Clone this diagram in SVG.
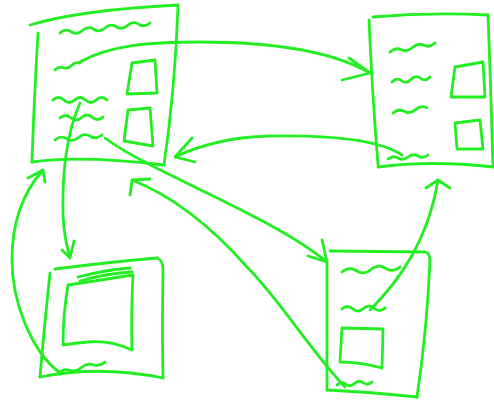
<svg xmlns="http://www.w3.org/2000/svg" width="494" height="402" viewBox="0 0 494 402">
<style>
path{fill:none;stroke:#22ee22;stroke-width:2.8;stroke-linecap:round;stroke-linejoin:round}
</style>
<rect width="494" height="402" fill="#ffffff"/>
<g id="node-1">
<path d="M30,25 Q80,10 178,5"/>
<path d="M178,6 Q175,90 164,165"/>
<path d="M38,33 Q34,100 32,162"/>
<path d="M32,162 Q80,155 164,165"/>
<path d="M60,33 q5.6,-5 11.25,-1.25 t11.25,-1.25 t11.25,-1.25 t11.25,-1.25 t11.25,-1.25 t11.25,-1.25 t11.25,-1.25 t11.25,-1.25"/>
<path d="M55,70 q4,-4 8.3,-2.3 t8.3,-2.3 t8.3,-2.3"/>
<path d="M53,100 q5.4,-5 10.8,0 t10.8,0 t10.8,0 t10.8,0 t10.8,0"/>
<path d="M60,118 q5.4,-5 10.75,-0.25 t10.75,-0.25 t10.75,-0.25 t10.75,-0.25"/>
<path d="M55,140 q5.9,-5 11.75,-1.25 t11.75,-1.25 t11.75,-1.25 t11.75,-1.25"/>
<path d="M132,63 L155,60 L157,93 L127,94 Z"/>
<path d="M128,110 L150,108 L153,146 L124,141 Z"/>
</g>
<g id="node-2">
<path d="M373,17 Q430,12 488,15"/>
<path d="M369,20 Q372,90 378,165"/>
<path d="M488,15 Q491,90 493,167"/>
<path d="M378,167 Q430,160 494,167"/>
<path d="M390,52 q5.6,-5 11.25,-2.25 t11.25,-2.25 t11.25,-2.25 t11.25,-2.25"/>
<path d="M392,82 q4.7,-5 9.5,-1.25 t9.5,-1.25 t9.5,-1.25 t9.5,-1.25"/>
<path d="M393,113 q5.7,-5 11.3,-1.7 t11.3,-1.7 t11.3,-1.7"/>
<path d="M388,159 q5,-4 10,-1 t10,-1 t10,-1 t10,-1"/>
<path d="M455,67 L483,62 L485,97 L451,97 Z"/>
<path d="M455,123 L480,120 L483,149 L457,149 Z"/>
</g>
<g id="node-3">
<path d="M55,269 Q110,262 157,258"/>
<path d="M157,258 Q163,260 163,270 Q162,330 163,378"/>
<path d="M163,378 Q100,365 40,377"/>
<path d="M50,273 Q44,330 40,377"/>
<path d="M78,277 Q105,270 130,268"/>
<path d="M80,281 Q108,273 132,272"/>
<path d="M68,285 Q100,280 133,275 Q131,315 132,350 Q110,340 88,342 Q75,343 63,345 Q63,315 68,285 Z"/>
<path d="M58,373 q5.9,-5 11.75,-2.75 t11.75,-2.75 t11.75,-2.75 t11.75,-2.75"/>
</g>
<g id="node-4">
<path d="M330,251 L425,252 Q430,253 430,260"/>
<path d="M430,260 Q427,330 417,397"/>
<path d="M417,397 Q370,392 327,390"/>
<path d="M327,262 L327,390"/>
<path d="M342,272 q7,-6 14.5,-1.25 t14.5,-1.25 t14.5,-1.25 t14.5,-1.25"/>
<path d="M342,309 q5.4,-5 10.75,-0.25 t10.75,-0.25 t10.75,-0.25 t10.75,-0.25"/>
<path d="M342,328 L383,329 L382,368 Q360,362 340,362 Z"/>
<path d="M337,385 q4.4,-4 8.75,-0.75 t8.75,-0.75 t8.75,-0.75 t8.75,-0.75"/>
</g>
<g id="connectors">
<path d="M80,62 C110,45 150,42 200,42 C270,42 330,50 370,73 M349,58 L370,73 L342,80"/>
<path d="M80,103 C68,130 62,170 63,215 C64,235 67,248 70,258 M62,250 L70,258 L74,241"/>
<path d="M105,138 C150,172 270,215 327,262 M322,240 L327,262 L308,256"/>
<path d="M402,155 C380,140 330,135 270,136 C230,137 200,145 175,157 M192,138 L175,157 L195,162"/>
<path d="M370,310 C400,280 428,240 438,180 M426,188 L438,180 L450,188"/>
<path d="M345,387 C310,350 280,300 247,267 C210,225 170,195 132,180 M130,195 L132,180 L150,179"/>
<path d="M60,373 C30,350 12,300 12,260 C12,220 25,190 43,170 M28,178 L43,170 L45,182"/>
</g>
</svg>
